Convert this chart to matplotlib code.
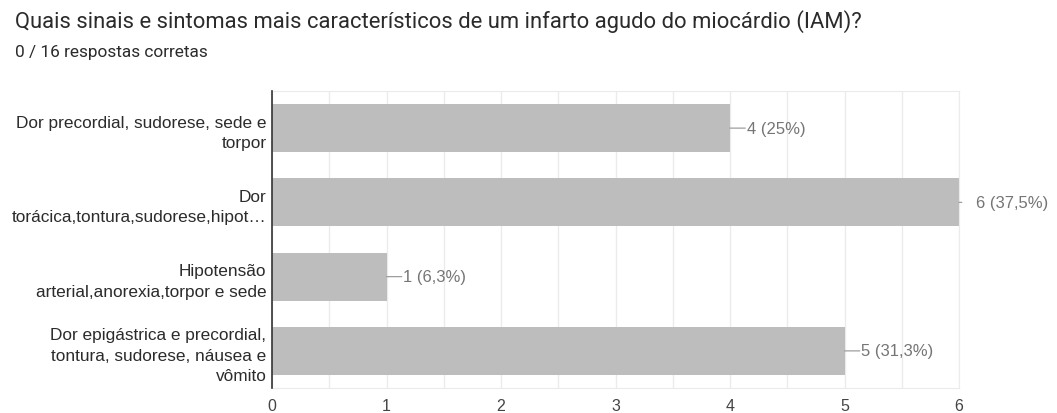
import matplotlib.pyplot as plt
import numpy as np

plt.rcParams['font.family'] = ['Liberation Sans', 'DejaVu Sans']

titulo = "Quais sinais e sintomas mais característicos de um infarto agudo do miocárdio (IAM)?"
subtitulo = "0 / 16 respostas corretas"
opcoes = [
    "Dor precordial, sudorese, sede e\ntorpor",
    "Dor\ntorácica,tontura,sudorese,hipot…",
    "Hipotensão\narterial,anorexia,torpor e sede",
    "Dor epigástrica e precordial,\ntontura, sudorese, náusea e\nvômito",
]
respostas = [4, 6, 1, 5]
porcentagens = ["25%", "37,5%", "6,3%", "31,3%"]
xmax = 6

fig = plt.figure(figsize=(10.57, 4.14), dpi=100)
ax = fig.add_axes([272 / 1057, 1 - 389 / 414, 687 / 1057, 297 / 414])

y = np.arange(len(opcoes))
ax.barh(y, respostas, height=0.645, color='#bdbdbd', zorder=2)
ax.set_ylim(len(opcoes) - 0.5, -0.5)
ax.set_xlim(0, xmax)

ax.set_xticks(np.arange(0, xmax + 1))
ax.set_xticks(np.arange(0, xmax + 0.5, 0.5), minor=True)
ax.grid(axis='x', which='both', color='#ebebeb', linewidth=1, zorder=0)
ax.set_yticks(y)
ax.set_yticklabels(opcoes, fontsize=12.4, color='#2b2b2b', linespacing=1.45)
ax.tick_params(axis='y', length=0, pad=4)
ax.tick_params(axis='x', which='both', length=0, pad=7, labelsize=11.5,
               labelcolor='#444444')

for lado in ['top', 'right', 'bottom']:
    ax.spines[lado].set_color('#ebebeb')
ax.spines['left'].set_color('#333333')
ax.spines['left'].set_linewidth(1.2)
ax.spines['left'].set_zorder(3)

# rótulos de valor com pequena linha guia
for i, (v, p) in enumerate(zip(respostas, porcentagens)):
    guia = 2 if v >= xmax else 11
    ax.annotate('', xy=(v, i), xytext=(guia, 0), textcoords='offset points',
                arrowprops=dict(arrowstyle='-', color='#9e9e9e', lw=0.9,
                                shrinkA=0, shrinkB=0), annotation_clip=False)
    ax.annotate(f"{v} ({p})", xy=(v, i), xytext=(12, 0),
                textcoords='offset points', va='center', ha='left',
                fontsize=12, color='#757575', annotation_clip=False)

fig.text(15 / 1057, 1 - 22 / 414, titulo, fontsize=15.8, color='#2b2b2b',
         family=['Roboto', 'DejaVu Sans'], va='center', ha='left')
fig.text(15 / 1057, 1 - 53 / 414, subtitulo, fontsize=12.4, color='#2b2b2b',
         family=['Roboto', 'DejaVu Sans'], va='center', ha='left')

fig.savefig('out.png', dpi=100)
